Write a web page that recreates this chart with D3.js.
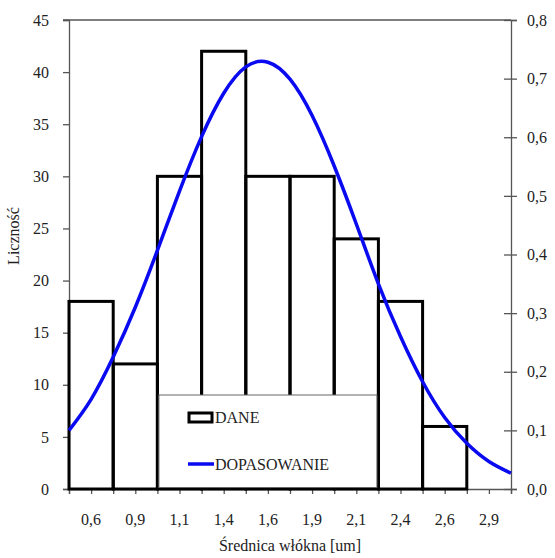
<!DOCTYPE html>
<html><head><meta charset="utf-8">
<script src="https://cdn.jsdelivr.net/npm/d3@7"></script>
<style>
html,body{margin:0;padding:0;background:#fff;}
svg text{font-family:"Liberation Serif","DejaVu Serif",serif;fill:#222;}
</style></head>
<body>
<svg id="c" width="555" height="558"></svg>
<script>
// ---- data ----
const binEdges = [0.5,0.75,1.0,1.25,1.5,1.75,2.0,2.25,2.5,2.75,3.0];
const counts = [18,12,30,42,30,30,24,18,6,0];
const tickLabels = ["0,6","0,9","1,1","1,4","1,6","1,9","2,1","2,4","2,6","2,9"];
const fitX = [0.5,0.625,0.75,0.875,1.0,1.125,1.25,1.375,1.5,1.625,1.75,1.875,2.0,2.125,2.25,2.375,2.5,2.625,2.75,2.875,3.0];
const fitY = [0.100,0.153,0.225,0.310,0.407,0.508,0.601,0.675,0.720,0.728,0.699,0.637,0.551,0.452,0.350,0.260,0.183,0.122,0.078,0.047,0.027];
const leftTicks = [0,5,10,15,20,25,30,35,40,45];
const rightTicks = [0,0.1,0.2,0.3,0.4,0.5,0.6,0.7,0.8];
const legendItems = ["DANE","DOPASOWANIE"];

// ---- layout ----
const L=69, R=511, T=20, B=489;
const svg = d3.select("#c");
const x = d3.scaleLinear().domain([0.5,3.0]).range([L,R]);
const y = d3.scaleLinear().domain([0,45]).range([B,T]);
const y2 = d3.scaleLinear().domain([0,0.8]).range([B,T]);
const axisCol = "#555";
const fmt = v => v.toFixed(1).replace(".",",");
const FS = 16;

// top line
svg.append("line").attr("x1",L-6).attr("x2",R).attr("y1",T).attr("y2",T)
  .attr("stroke",axisCol).attr("stroke-width",1.3);

// left axis
const gl = svg.append("g").attr("transform",`translate(${L},0)`)
  .call(d3.axisLeft(y).tickValues(leftTicks).tickSize(6).tickPadding(14).tickFormat(d3.format("d")));
gl.select(".domain").attr("stroke",axisCol).attr("stroke-width",1.3);
gl.selectAll(".tick line").attr("stroke",axisCol).attr("stroke-width",1.3);
gl.selectAll("text").attr("font-size",FS).attr("fill","#222")
  .style("font-family",'"Liberation Serif",serif');

// right axis (ticks crossing)
const gr = svg.append("g").attr("transform",`translate(${R},0)`)
  .call(d3.axisRight(y2).tickValues(rightTicks).tickSize(6).tickPadding(10).tickFormat(fmt));
gr.select(".domain").attr("stroke",axisCol).attr("stroke-width",1.3);
gr.selectAll(".tick line").attr("x1",-7).attr("x2",6).attr("stroke",axisCol).attr("stroke-width",1.3);
gr.selectAll("text").attr("font-size",FS).attr("fill","#222")
  .style("font-family",'"Liberation Serif",serif');

// bottom axis: ticks at every half-bin, labels at bin centres
const halfTicks = d3.range(0, binEdges.length*2-1).map(i => i%2===0 ? binEdges[i/2] : (binEdges[(i-1)/2]+binEdges[(i+1)/2])/2);
const gb = svg.append("g").attr("transform",`translate(0,${B})`)
  .call(d3.axisBottom(x).tickValues(halfTicks).tickSize(5).tickFormat(""));
gb.select(".domain").attr("stroke",axisCol).attr("stroke-width",1.3);
gb.selectAll(".tick line").attr("stroke",axisCol).attr("stroke-width",1.3);
const centers = counts.map((c,i)=>(binEdges[i]+binEdges[i+1])/2);
svg.append("g").selectAll("text").data(centers).join("text")
  .attr("x",d=>x(d)).attr("y",B+36).attr("text-anchor","middle").attr("font-size",FS)
  .text((d,i)=>tickLabels[i]);

// bars
const bars = counts.map((c,i)=>({c, x0:binEdges[i], x1:binEdges[i+1]})).filter(d=>d.c>0);
svg.append("g").selectAll("rect").data(bars).join("rect")
  .attr("x",d=>x(d.x0)).attr("y",d=>y(d.c))
  .attr("width",d=>x(d.x1)-x(d.x0)).attr("height",d=>y(0)-y(d.c))
  .attr("fill","none").attr("stroke","#000").attr("stroke-width",3);

// fitted curve
const pts = fitX.map((v,i)=>[v,fitY[i]]);
svg.append("path").datum(pts)
  .attr("d",d3.line().x(d=>x(d[0])).y(d=>y2(d[1])).curve(d3.curveNatural))
  .attr("fill","none").attr("stroke","#0a0af0").attr("stroke-width",3.5);

// legend box
const lx0 = x(1.0)+1.5, lx1 = x(2.25)-1.5, ly0 = 395;
svg.append("rect").attr("x",lx0).attr("y",ly0).attr("width",lx1-lx0).attr("height",B-1.5-ly0)
  .attr("fill","#fff").attr("stroke","#666").attr("stroke-width",1);
svg.append("rect").attr("x",189).attr("y",413).attr("width",23).attr("height",9)
  .attr("fill","#fff").attr("stroke","#000").attr("stroke-width",3);
svg.append("line").attr("x1",188).attr("x2",214).attr("y1",464).attr("y2",464)
  .attr("stroke","#0a0af0").attr("stroke-width",3.5);
svg.append("text").attr("x",215).attr("y",423).attr("font-size",FS).text(legendItems[0]);
svg.append("text").attr("x",215).attr("y",470).attr("font-size",FS).text(legendItems[1]);

// axis titles
svg.append("text").attr("x",(L+R)/2).attr("y",551).attr("text-anchor","middle").attr("font-size",FS)
  .text("Średnica włókna [um]");
svg.append("text").attr("transform","translate(19,236) rotate(-90)").attr("text-anchor","middle")
  .attr("font-size",FS).text("Liczność");
</script>
</body></html>
